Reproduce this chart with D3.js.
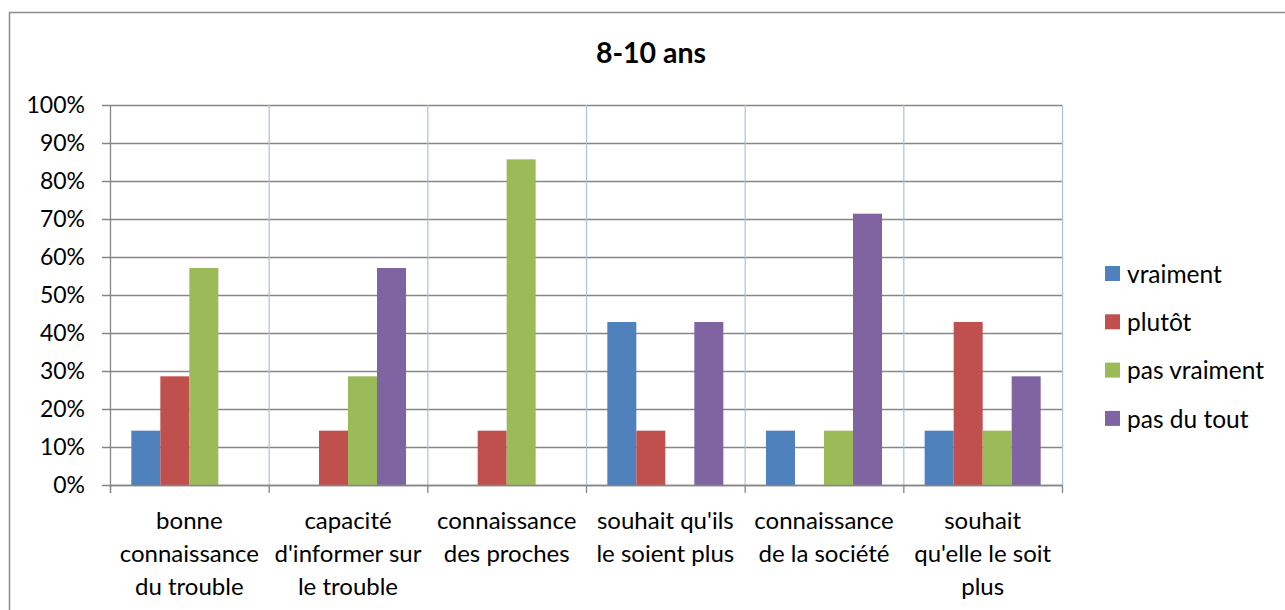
<!DOCTYPE html>
<html>
<head>
<meta charset="utf-8">
<script src="https://cdn.jsdelivr.net/npm/d3@7"></script>
<style>
  body { margin: 0; background: #fff; }
  text { font-family: Lato, "Open Sans", sans-serif; fill: #000; }
</style>
</head>
<body>
<div id="chart"></div>
<script>
// chart data
var title = "8-10 ans";
var categories = [
  ["bonne", "connaissance", "du trouble"],
  ["capacité", "d'informer sur", "le trouble"],
  ["connaissance", "des proches"],
  ["souhait qu'ils", "le soient plus"],
  ["connaissance", "de la société"],
  ["souhait", "qu'elle le soit", "plus"]
];
var seriesNames = ["vraiment", "plutôt", "pas vraiment", "pas du tout"];
var seriesColors = ["#4f81bd", "#c0504d", "#9bbb59", "#8064a2"];
var vraiment    = [14.3, 0, 0, 42.9, 14.3, 14.3];
var plutot      = [28.6, 14.3, 14.3, 14.3, 0, 42.9];
var pasVraiment = [57.1, 28.6, 85.7, 0, 14.3, 14.3];
var pasDuTout   = [0, 57.1, 0, 42.9, 71.4, 28.6];
var yTicks = [0, 10, 20, 30, 40, 50, 60, 70, 80, 90, 100];

var seriesValues = [vraiment, plutot, pasVraiment, pasDuTout];

// dimensions
var svg_width = 1285;
var svg_height = 610;
var margins = { top: 105, left: 110, right: 223, bottom: 125 };
var width = svg_width - margins.left - margins.right;
var height = svg_height - margins.top - margins.bottom;

var svg = d3.select("#chart")
            .append("svg")
            .attr("width", svg_width)
            .attr("height", svg_height);

// outer chart border (runs off the right and bottom edges)
svg.append("rect")
   .attr("x", 9.5).attr("y", 12.5)
   .attr("width", 1290).attr("height", 620)
   .style("fill", "#fff")
   .style("stroke", "#8a8a8a")
   .style("stroke-width", 1.5);

svg.append("text")
   .attr("x", 651)
   .attr("y", 63)
   .attr("text-anchor", "middle")
   .style("font-size", "28.5px")
   .style("font-weight", "bold")
   .text(title);

var g = svg.append("g")
           .attr("transform", "translate(" + margins.left + "," + margins.top + ")");

// scales
var catIdx = d3.range(categories.length);
var x0 = d3.scaleBand().domain(catIdx).range([0, width]).paddingInner(0).paddingOuter(0);
var x1 = d3.scaleBand().domain(d3.range(seriesNames.length))
           .range([0, x0.bandwidth()]).paddingOuter(0.735).paddingInner(0);
var y = d3.scaleLinear().domain([0, 100]).range([height, 0]);

// horizontal gridlines
g.append("g")
 .selectAll("line")
 .data(yTicks)
 .enter().append("line")
 .attr("x1", -8).attr("x2", width)
 .attr("y1", d => y(d) + 0.5).attr("y2", d => y(d) + 0.5)
 .style("stroke", "#868686")
 .style("stroke-width", 1.3);

// vertical gridlines between categories
g.append("g")
 .selectAll("line")
 .data(d3.range(1, categories.length + 1))
 .enter().append("line")
 .attr("x1", d => x0.step() * d + 0.5).attr("x2", d => x0.step() * d + 0.5)
 .attr("y1", 0).attr("y2", height)
 .style("stroke", "#a8c0e6")
 .style("stroke-width", 1.2);

// bars
var groups = g.append("g")
  .selectAll("g")
  .data(seriesValues)
  .enter().append("g")
  .style("fill", (d, i) => seriesColors[i]);

groups.each(function(vals, si) {
  d3.select(this).selectAll("rect")
    .data(vals)
    .enter().append("rect")
    .attr("x", (d, ci) => x0(ci) + x1(si))
    .attr("width", x1.bandwidth())
    .attr("y", d => y(d))
    .attr("height", d => height - y(d));
});

// x axis line and category ticks
g.append("line")
 .attr("x1", 0).attr("x2", width)
 .attr("y1", height + 0.5).attr("y2", height + 0.5)
 .style("stroke", "#868686").style("stroke-width", 1.3);

g.append("g")
 .selectAll("line")
 .data(d3.range(0, categories.length + 1))
 .enter().append("line")
 .attr("x1", d => x0.step() * d + 0.5).attr("x2", d => x0.step() * d + 0.5)
 .attr("y1", height).attr("y2", height + 8)
 .style("stroke", "#868686").style("stroke-width", 1.3);

// y axis line
g.append("line")
 .attr("x1", 0.5).attr("x2", 0.5)
 .attr("y1", 0).attr("y2", height + 8)
 .style("stroke", "#868686").style("stroke-width", 1.3);

// y tick labels
g.append("g")
 .selectAll("text")
 .data(yTicks)
 .enter().append("text")
 .attr("x", -25)
 .attr("y", d => y(d))
 .attr("dy", "0.36em")
 .attr("text-anchor", "end")
 .style("font-size", "23px")
 .text(d => d + "%");

// category labels
var catLabels = g.append("g")
  .selectAll("text")
  .data(categories)
  .enter().append("text")
  .attr("text-anchor", "middle")
  .style("font-size", "24px")
  .attr("transform", (d, i) => "translate(" + (x0(i) + x0.bandwidth() / 2) + "," + (height + 44) + ")");

catLabels.selectAll("tspan")
  .data(d => d)
  .enter().append("tspan")
  .attr("x", 0)
  .attr("y", (d, i) => i * 33)
  .text(d => d);

// legend
var legend = svg.append("g")
  .attr("transform", "translate(1105, 266)");

var items = legend.selectAll("g")
  .data(seriesNames)
  .enter().append("g")
  .attr("transform", (d, i) => "translate(0," + (i * 48.3) + ")");

items.append("rect")
  .attr("width", 15).attr("height", 15)
  .style("fill", (d, i) => seriesColors[i]);

items.append("text")
  .attr("x", 22)
  .attr("y", 8)
  .attr("dy", "0.36em")
  .style("font-size", "24.5px")
  .text(d => d);
</script>
</body>
</html>
